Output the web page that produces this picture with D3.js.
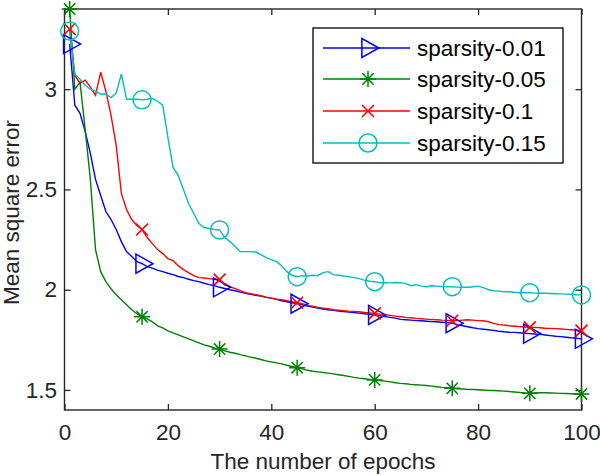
<!DOCTYPE html>
<html>
<head>
<meta charset="utf-8">
<script src="https://cdn.jsdelivr.net/npm/d3@7"></script>
<style>
  html, body { margin: 0; padding: 0; background: #fff; }
  svg { display: block; font-family: "Liberation Sans", Arial, sans-serif; }
</style>
</head>
<body>
<svg id="chart" width="600" height="476"></svg>
<script>
// ---- data ----
const epochs = d3.range(1, 101);
const seriesNames = ["sparsity-0.01", "sparsity-0.05", "sparsity-0.1", "sparsity-0.15"];
const sparsity001 = [
  3.225, 2.92, 2.88, 2.79, 2.68, 2.55, 2.47, 2.39, 2.35, 2.30,
  2.24, 2.19, 2.165, 2.14, 2.13, 2.115, 2.108, 2.098, 2.09, 2.082,
  2.075, 2.066, 2.06, 2.052, 2.045, 2.04, 2.032, 2.025, 2.02, 2.012,
  2.006, 2.0, 1.995, 1.988, 1.982, 1.977, 1.972, 1.968, 1.962, 1.958,
  1.952, 1.945, 1.94, 1.935, 1.93, 1.925, 1.918, 1.913, 1.908, 1.904,
  1.90, 1.897, 1.894, 1.891, 1.888, 1.886, 1.883, 1.88, 1.877, 1.874,
  1.87, 1.866, 1.862, 1.858, 1.852, 1.85, 1.848, 1.846, 1.845, 1.843,
  1.841, 1.84, 1.838, 1.836, 1.833, 1.826, 1.82, 1.815, 1.81, 1.806,
  1.803, 1.80, 1.797, 1.793, 1.79, 1.788, 1.787, 1.785, 1.783, 1.781,
  1.779, 1.777, 1.774, 1.771, 1.768, 1.766, 1.763, 1.76, 1.758, 1.755
];
const sparsity005 = [
  3.40, 3.00, 3.035, 2.80, 2.55, 2.20, 2.09, 2.04, 2.005, 1.975,
  1.95, 1.925, 1.90, 1.88, 1.865, 1.855, 1.84, 1.82, 1.81, 1.795,
  1.785, 1.775, 1.765, 1.755, 1.745, 1.735, 1.725, 1.718, 1.71, 1.704,
  1.695, 1.688, 1.683, 1.676, 1.67, 1.664, 1.658, 1.652, 1.645, 1.64,
  1.635, 1.63, 1.623, 1.617, 1.611, 1.605, 1.598, 1.593, 1.59, 1.587,
  1.584, 1.58, 1.576, 1.572, 1.568, 1.563, 1.559, 1.556, 1.553, 1.55,
  1.547, 1.544, 1.54, 1.536, 1.533, 1.531, 1.528, 1.526, 1.524, 1.522,
  1.519, 1.516, 1.513, 1.511, 1.508, 1.506, 1.505, 1.503, 1.502, 1.501,
  1.50, 1.498, 1.497, 1.496, 1.494, 1.492, 1.49, 1.488, 1.485, 1.483,
  1.485, 1.486, 1.486, 1.485, 1.484, 1.483, 1.482, 1.481, 1.48, 1.48
];
const sparsity01 = [
  3.30, 3.07, 3.03, 3.045, 3.01, 2.97, 3.085, 2.99, 2.87, 2.72,
  2.48, 2.40, 2.35, 2.32, 2.30, 2.26, 2.23, 2.20, 2.18, 2.155,
  2.145, 2.12, 2.10, 2.085, 2.07, 2.06, 2.058, 2.055, 2.052, 2.05,
  2.03, 2.015, 2.005, 1.995, 1.985, 1.98, 1.975, 1.97, 1.963, 1.958,
  1.953, 1.95, 1.945, 1.94, 1.935, 1.93, 1.922, 1.918, 1.912, 1.908,
  1.905, 1.90, 1.898, 1.895, 1.893, 1.892, 1.89, 1.886, 1.884, 1.882,
  1.878, 1.875, 1.872, 1.868, 1.865, 1.862, 1.86, 1.857, 1.855, 1.853,
  1.851, 1.85, 1.848, 1.847, 1.845, 1.846, 1.848, 1.85, 1.848, 1.846,
  1.845, 1.84, 1.832, 1.826, 1.824, 1.82, 1.818, 1.816, 1.814, 1.812,
  1.812, 1.81, 1.808, 1.807, 1.806, 1.804, 1.802, 1.80, 1.798, 1.796
];
const sparsity015 = [
  3.29, 3.075, 3.05, 3.02, 3.0, 2.99, 2.976, 2.975, 2.958, 2.98,
  3.076, 2.95, 2.95, 2.95, 2.947, 2.95, 2.955, 2.94, 2.92, 2.76,
  2.61, 2.57, 2.50, 2.43, 2.38, 2.33, 2.31, 2.305, 2.30, 2.298,
  2.26, 2.24, 2.215, 2.19, 2.19, 2.19, 2.188, 2.175, 2.16, 2.15,
  2.14, 2.12, 2.09, 2.072, 2.065, 2.07, 2.068, 2.072, 2.07, 2.085,
  2.09, 2.075, 2.072, 2.068, 2.065, 2.06, 2.055, 2.048, 2.042, 2.04,
  2.035, 2.035, 2.034, 2.036, 2.035, 2.03, 2.02, 2.025, 2.018, 2.015,
  2.02, 2.018, 2.016, 2.015, 2.015, 2.013, 2.012, 2.012, 2.015, 2.018,
  2.01, 2.0, 1.995, 1.993, 1.99, 1.99, 1.987, 1.985, 1.985, 1.985,
  1.983, 1.982, 1.982, 1.981, 1.98, 1.979, 1.978, 1.977, 1.975, 1.974
];
const markerEpochs = [1, 15, 30, 45, 60, 75, 90, 100];
const xTicks = [0, 20, 40, 60, 80, 100];
const yTicks = [1.5, 2, 2.5, 3];
const xTitle = "The number of epochs";
const yTitle = "Mean square error";

const seriesValues = [sparsity001, sparsity005, sparsity01, sparsity015];
const colors = ["#0000ff", "#008000", "#ff0000", "#00bfbf"];
const markerTypes = ["triangle", "star", "x", "circle"];

(function () {
// ---- layout ----
const svg = d3.select("#chart");
const pL = 64.5, pR = 581.5, pT = 9, pB = 410;
const x = d3.scaleLinear().domain([0, 100]).range([pL, pR]);
const y = d3.scaleLinear().domain([1.4, 3.4]).range([pB, pT]);
const axisColor = "#262626";
const fontSize = 22.5;

function styleAxis(g) {
  g.select(".domain").remove();
  g.selectAll(".tick line").attr("stroke", axisColor).attr("stroke-width", 1.3);
  g.selectAll(".tick text").attr("fill", axisColor).attr("font-size", fontSize)
    .attr("font-family", "Liberation Sans, Arial, sans-serif");
}
svg.append("g").attr("transform", `translate(0,${pB})`)
  .call(d3.axisBottom(x).tickValues(xTicks).tickSize(-6).tickPadding(14).tickFormat(d3.format("d")))
  .call(styleAxis);
svg.append("g").attr("transform", `translate(0,${pT})`)
  .call(d3.axisTop(x).tickValues(xTicks).tickSize(-6).tickFormat(""))
  .call(styleAxis);
svg.append("g").attr("transform", `translate(${pL},0)`)
  .call(d3.axisLeft(y).tickValues(yTicks).tickSize(-6).tickPadding(7.5).tickFormat(d => String(d)))
  .call(styleAxis);
svg.append("g").attr("transform", `translate(${pR},0)`)
  .call(d3.axisRight(y).tickValues(yTicks).tickSize(-6).tickFormat(""))
  .call(styleAxis);

svg.append("rect").attr("x", pL).attr("y", pT).attr("width", pR - pL).attr("height", pB - pT)
  .attr("fill", "none").attr("stroke", axisColor).attr("stroke-width", 1.4);

function drawMarker(g, type, cx, cy, color) {
  if (type === "triangle") {
    const h = 9.5, w = 17;
    g.append("path").attr("d", `M${cx - w * 0.36},${cy - h}L${cx + w * 0.64},${cy}L${cx - w * 0.36},${cy + h}Z`)
      .attr("fill", "none").attr("stroke", color).attr("stroke-width", 1.5);
  } else if (type === "star") {
    const r = 8, d = r * 0.707;
    g.append("path").attr("d",
      `M${cx - r},${cy}L${cx + r},${cy}M${cx},${cy - r}L${cx},${cy + r}` +
      `M${cx - d},${cy - d}L${cx + d},${cy + d}M${cx - d},${cy + d}L${cx + d},${cy - d}`)
      .attr("fill", "none").attr("stroke", color).attr("stroke-width", 1.5);
  } else if (type === "x") {
    const r = 6;
    g.append("path").attr("d", `M${cx - r},${cy - r}L${cx + r},${cy + r}M${cx - r},${cy + r}L${cx + r},${cy - r}`)
      .attr("fill", "none").attr("stroke", color).attr("stroke-width", 1.6);
  } else if (type === "circle") {
    g.append("circle").attr("cx", cx).attr("cy", cy).attr("r", 9)
      .attr("fill", "none").attr("stroke", color).attr("stroke-width", 1.5);
  }
}

const line = d3.line().x((d, i) => x(epochs[i])).y(d => y(d));
const plot = svg.append("g");
seriesValues.forEach((vals, k) => {
  plot.append("path").datum(vals).attr("d", line)
    .attr("fill", "none").attr("stroke", colors[k]).attr("stroke-width", 1.4);
});
seriesValues.forEach((vals, k) => {
  const mg = plot.append("g");
  markerEpochs.forEach(e => {
    drawMarker(mg, markerTypes[k], x(e), y(vals[e - 1]), colors[k]);
  });
});

svg.append("text").attr("x", (pL + pR) / 2).attr("y", 469)
  .attr("text-anchor", "middle").attr("font-size", fontSize).attr("fill", axisColor).text(xTitle);
svg.append("text").attr("transform", `translate(19,${(pT + pB) / 2 + 3}) rotate(-90)`)
  .attr("text-anchor", "middle").attr("font-size", fontSize).attr("fill", axisColor).text(yTitle);

const lg = svg.append("g");
lg.append("rect").attr("x", 313).attr("y", 28).attr("width", 250).attr("height", 135)
  .attr("fill", "#fff").attr("stroke", "#000").attr("stroke-width", 1.3);
const rowY = [48, 79, 111, 143];
seriesNames.forEach((name, k) => {
  lg.append("line").attr("x1", 323).attr("x2", 410).attr("y1", rowY[k]).attr("y2", rowY[k])
    .attr("stroke", colors[k]).attr("stroke-width", 1.4);
  drawMarker(lg, markerTypes[k], 368, rowY[k], colors[k]);
  lg.append("text").attr("x", 417).attr("y", rowY[k]).attr("dy", "0.36em")
    .attr("font-size", fontSize).attr("fill", "#000").text(name);
});
})();
</script>
</body>
</html>
